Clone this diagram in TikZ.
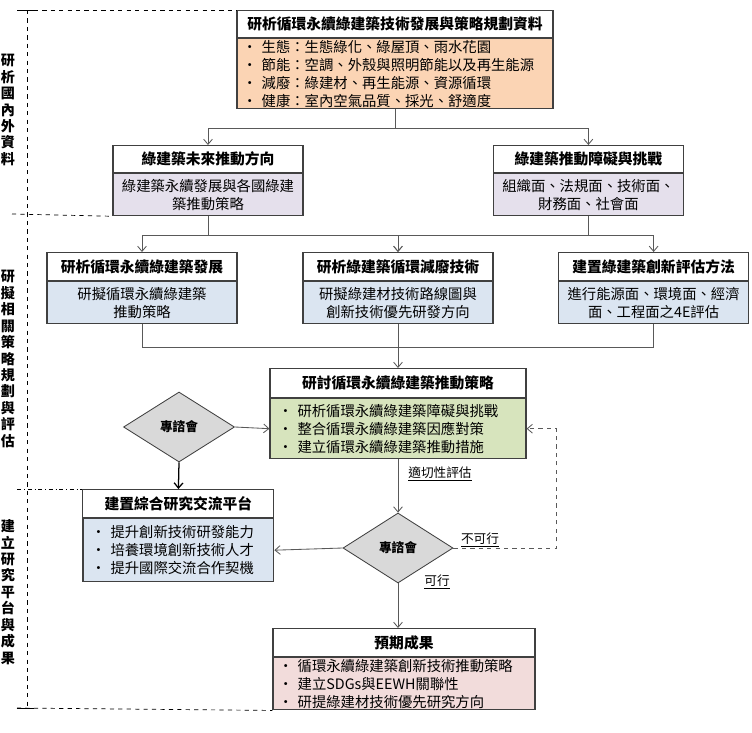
\documentclass[tikz,border=0pt]{standalone}
\usepackage{fontspec}
\setmainfont{Noto Sans CJK TC}
\usetikzlibrary{arrows.meta,shapes.geometric}
\definecolor{BoxLine}{HTML}{404040}
\definecolor{PeachFill}{HTML}{FBD4B4}
\definecolor{LilacFill}{HTML}{E5E0EC}
\definecolor{SkyFill}{HTML}{DBE5F1}
\definecolor{SageFill}{HTML}{D7E4BD}
\definecolor{RoseFill}{HTML}{F2DCDB}
\definecolor{DiaGray}{HTML}{D9D9D9}
\definecolor{WireGray}{HTML}{595959}

\begin{document}
\begin{tikzpicture}[
    ttl/.style={draw=BoxLine, line width=0.8pt, fill=white, anchor=north,
                inner sep=1pt, align=center,
                font=\fontsize{10.5}{12}\selectfont\bfseries},
    body/.style={draw=BoxLine, line width=0.8pt, anchor=north, inner xsep=4pt,
                 inner ysep=1pt, font=\fontsize{10.2}{12.8}\selectfont},
    dia/.style={diamond, draw=BoxLine, line width=0.6pt, fill=DiaGray, inner sep=0pt,
                minimum width=2.75cm, minimum height=1.75cm,
                font=\fontsize{9}{10}\selectfont\bfseries},
    side/.style={align=center, inner sep=0pt, font=\fontsize{10}{11.7}\selectfont\bfseries},
    lbl/.style={font=\fontsize{9}{10}\selectfont, inner sep=1pt},
    arr/.style={-{Straight Barb[length=1.3mm,width=2.2mm]}, line width=0.6pt, color=WireGray},
    wire/.style={line width=0.6pt, color=WireGray},
    darr/.style={arr, dashed},
    frame/.style={dashed, line width=0.5pt, color=black},
  ]
    \useasboundingbox (0,0) rectangle (18.8,-18.3);

    % Fases (columna izquierda)
    \node[side] (s1) at (0.2,-2.75)  {研\\析\\國\\內\\外\\資\\料};
    \node[side] (s2) at (0.2,-8.975) {研\\擬\\相\\關\\策\\略\\規\\劃\\與\\評\\估};
    \node[side] (s3) at (0.2,-14.8)  {建\\立\\研\\究\\平\\台\\與\\成\\果};

    % Datos de partida
    \node[ttl, minimum width=7.9cm, minimum height=0.675cm] (srct) at (9.875,-0.25)
      {研析循環永續綠建築技術發展與策略規劃資料};
    \node[body, fill=PeachFill, text width=7.62cm, minimum height=1.75cm, align=left] (src) at (srct.south)
      {•~生態：生態綠化、綠屋頂、雨水花園\\
       •~節能：空調、外殼與照明節能以及再生能源\\
       •~減廢：綠建材、再生能源、資源循環\\
       •~健康：室內空氣品質、採光、舒適度};

    \node[ttl, minimum width=4.75cm, minimum height=0.675cm] (fdt) at (5.2,-3.625) {綠建築未來推動方向};
    \node[body, fill=LilacFill, text width=4.47cm, minimum height=1.05cm, align=center] (fd) at (fdt.south)
      {綠建築永續發展與各國綠建\\築推動策略};
    \node[ttl, minimum width=4.75cm, minimum height=0.675cm] (obt) at (14.71,-3.625) {綠建築推動障礙與挑戰};
    \node[body, fill=LilacFill, text width=4.47cm, minimum height=1.05cm, align=center] (ob) at (obt.south)
      {組織面、法規面、技術面、\\財務面、社會面};

    \draw[arr] (src.south) -- ++(0,-0.475) -| (fdt.north);
    \draw[arr] (src.south) -- ++(0,-0.475) -| (obt.north);

    % Estrategias
    \node[ttl, minimum width=4.75cm, minimum height=0.7cm] (cdt) at (3.55,-6.3) {研析循環永續綠建築發展};
    \node[body, fill=SkyFill, text width=4.47cm, minimum height=1.05cm, align=center] (cd) at (cdt.south)
      {研擬循環永續綠建築\\推動策略};
    \node[ttl, minimum width=4.75cm, minimum height=0.7cm] (wtt) at (9.95,-6.3) {研析綠建築循環減廢技術};
    \node[body, fill=SkyFill, text width=4.47cm, minimum height=1.05cm, align=center] (wt) at (wtt.south)
      {研擬綠建材技術路線圖與\\創新技術優先研發方向};
    \node[ttl, minimum width=4.75cm, minimum height=0.7cm] (evt) at (16.34,-6.3) {建置綠建築創新評估方法};
    \node[body, fill=SkyFill, text width=4.47cm, minimum height=1.05cm, align=center] (ev) at (evt.south)
      {進行能源面、環境面、經濟\\面、工程面之4E評估};

    \draw[arr] (fd.south) -- ++(0,-0.475) -| (cdt.north);
    \draw[arr] (fd.south) -- ++(0,-0.475) -| (wtt.north);
    \draw[arr] (ob.south) -- ++(0,-0.475) -| (wtt.north);
    \draw[arr] (ob.south) -- ++(0,-0.475) -| (evt.north);

    \node[ttl, minimum width=6.4cm, minimum height=0.725cm] (stt) at (9.95,-9.2) {研討循環永續綠建築推動策略};
    \node[body, fill=SageFill, text width=6.12cm, minimum height=1.5cm, align=left] (st) at (stt.south)
      {\hspace{2pt}•~研析循環永續綠建築障礙與挑戰\\
       \hspace{2pt}•~整合循環永續綠建築因應對策\\
       \hspace{2pt}•~建立循環永續綠建築推動措施};

    \draw[wire] (cd.south) -- ++(0,-0.575) -| (ev.south);
    \draw[arr] (wt.south) -- (stt.north);

    % Consulta de expertos
    \node[dia, minimum width=2.775cm] (dia1) at (4.475,-10.675) {專諮會};
    \draw[arr] (dia1.east) -- (st.west);

    \node[ttl, minimum width=4.775cm, minimum height=0.7cm] (pft) at (4.46,-12.225) {建置綜合研究交流平台};
    \node[body, fill=SkyFill, text width=4.49cm, minimum height=1.575cm, align=left] (pf) at (pft.south)
      {\hspace{2pt}•~提升創新技術研發能力\\
       \hspace{2pt}•~培養環境創新技術人才\\
       \hspace{2pt}•~提升國際交流合作契機};
    \draw[arr, line width=0.9pt, color=black] (dia1.south) -- (pft.north);

    \node[dia] (dia2) at (9.95,-13.7) {專諮會};
    \node[lbl] (fit) at (11.0,-11.85) {\underline{適切性評估}};
    \draw[arr] (st.south) -- (dia2.north);
    \draw[arr] (dia2.west) -- (pf.east);

    % Resultados
    \node[ttl, minimum width=6.55cm, minimum height=0.7cm] (rst) at (10.1,-15.7) {預期成果};
    \node[body, fill=RoseFill, text width=6.27cm, minimum height=1.3cm, align=left] (rs) at (rst.south)
      {•~循環永續綠建築創新技術推動策略\\
       •~建立SDGs與EEWH關聯性\\
       •~研提綠建材技術優先研究方向};
    \node[lbl] (ok) at (10.925,-14.55) {\underline{可行}};
    \draw[arr] (dia2.south) -- (dia2.south |- rst.north);

    \node[lbl] (nok) at (12.0,-13.5) {\underline{不可行}};
    \draw[darr] (dia2.east) -- ++(2.575,0) |- (st.east);

    % Marco de fases
    \draw[frame] (0.675,-0.25) -- (0.675,-17.7);
    \draw[frame] (0.425,-0.25) -- (srct.north west);
    \draw[line width=0.5pt] (0.425,-0.25) -- (0.85,-0.25);
    \draw[frame] (0.3,-5.35) -- (fd.south west);
    \draw[frame, dash dot] (0.425,-12.225) -- (pft.north west);
    \draw[frame] (0.425,-17.7) -- (rs.south west);
    \draw[line width=0.5pt] (0.425,-17.7) -- (0.85,-17.7);
  \end{tikzpicture}
\end{document}
